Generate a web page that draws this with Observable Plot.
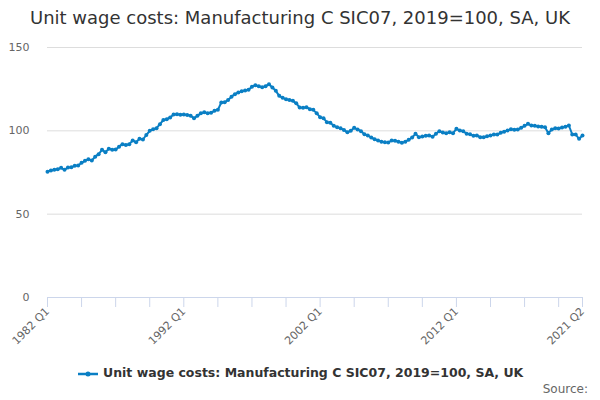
<!DOCTYPE html>
<html><head><meta charset="utf-8">
<script src="https://cdn.jsdelivr.net/npm/d3@7"></script>
<script src="https://cdn.jsdelivr.net/npm/@observablehq/plot@0.6"></script>
<style>
body{margin:0;font-family:"DejaVu Sans",sans-serif;width:600px;height:400px;position:relative;background:#fff}
#title{position:absolute;top:7px;left:0;width:600px;text-align:center;font-size:18px;color:#333}
#chart{position:absolute;top:40px;left:0}
#legend{position:absolute;top:365px;left:0;width:600px;text-align:center;font-size:12.5px;font-weight:bold;color:#333}
#src{position:absolute;top:382px;right:12px;font-size:12px;color:#666}
</style></head><body>
<div id="title">Unit wage costs: Manufacturing C SIC07, 2019=100, SA, UK</div>
<div id="chart"></div>
<div id="legend"><svg width="22" height="10" style="vertical-align:middle"><line x1="1" y1="5" x2="21" y2="5" stroke="#0a7fc4" stroke-width="2.5"/><circle cx="11" cy="5" r="2.5" fill="#0a7fc4"/></svg> Unit wage costs: Manufacturing C SIC07, 2019=100, SA, UK</div>
<div id="src">Source:</div>
<script>
const startYear = 1982;
const values = [
75.5,76.2,76.6,77.0, 77.8,76.6,78.0,78.2, 79.0,79.2,80.8,82.0, 83.0,82.2,84.5,86.0,
88.6,87.2,89.2,88.6, 88.8,90.5,92.0,91.5, 92.0,94.2,93.2,95.2, 94.8,97.5,100.0,101.0,
101.6,104.0,106.5,107.0, 108.0,109.8,110.0,109.6, 109.8,109.5,109.0,107.6, 109.0,110.5,111.2,110.6,
110.8,112.0,112.6,117.0, 117.2,118.5,120.5,122.0, 123.0,123.8,124.2,124.6, 126.5,127.4,126.8,126.2,
126.8,128.0,126.0,124.0, 121.0,119.8,119.0,118.5, 118.0,116.5,114.0,113.8, 114.2,113.0,112.6,110.5,
108.2,107.5,105.2,104.8, 103.0,102.2,101.5,100.5, 99.2,100.0,101.8,100.8, 99.8,98.0,97.2,96.0,
95.0,94.2,93.5,93.2, 93.0,94.2,94.0,93.4, 92.8,93.5,94.6,96.0, 98.2,96.2,96.6,97.0,
97.2,96.4,98.2,99.8, 99.0,98.6,99.2,98.6, 101.2,100.2,99.8,98.2, 98.0,97.0,97.2,96.2,
96.2,96.8,97.2,97.8, 97.8,98.8,99.5,100.2, 101.0,100.6,100.8,101.8, 103.0,104.2,103.2,103.0,
102.6,102.4,102.2,98.6, 100.8,101.6,101.4,102.0, 102.4,103.2,97.8,97.8, 95.2,97.2
];
const labels = values.map((_, i) => `${startYear + Math.floor(i/4)} Q${i%4+1}`);
const data = values.map((v, i) => ({i, v, label: labels[i]}));
const labelledTicks = [0, 40, 80, 120, 157];
const minorTicks = d3.range(0, 157, 10).concat([157]);
const blue = "#0a7fc4";
const chart = Plot.plot({
  width: 600, height: 325,
  marginLeft: 47, marginRight: 18, marginTop: 7, marginBottom: 68,
  style: {fontFamily: "DejaVu Sans, sans-serif", fontSize: "11px", color: "#666"},
  x: {domain: [0, 157]},
  y: {domain: [0, 150]},
  marks: [
    Plot.gridY([0, 50, 100, 150], {stroke: "#ddd", strokeOpacity: 1}),
    Plot.axisY([0, 50, 100, 150], {tickSize: 0, tickPadding: 18, label: null, fontSize: 11}),
    Plot.ruleY([0], {stroke: "#ccd6eb"}),
    Plot.axisX(minorTicks, {tickSize: 10, stroke: "#ccd6eb", tickFormat: () => "", label: null}),
    Plot.axisX(labelledTicks, {tickSize: 0, tickRotate: -45, tickPadding: 12, tickFormat: i => labels[i], label: null, fontSize: 11}),
    Plot.line(data, {x: "i", y: "v", stroke: blue, strokeWidth: 2}),
    Plot.dot(data, {x: "i", y: "v", fill: blue, r: 2})
  ]
});
document.getElementById("chart").append(chart);
</script>
</body></html>
